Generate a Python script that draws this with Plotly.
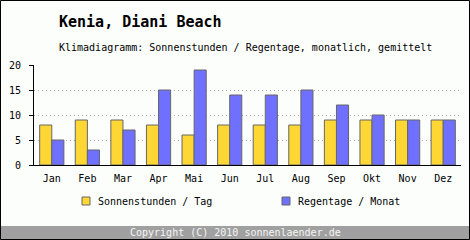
import plotly.graph_objects as go

months = ["Jan", "Feb", "Mar", "Apr", "Mai", "Jun", "Jul", "Aug", "Sep", "Okt", "Nov", "Dez"]
sonnenstunden = [8, 9, 9, 8, 6, 8, 8, 8, 9, 9, 9, 9]
regentage = [5, 3, 7, 15, 19, 14, 14, 15, 12, 10, 9, 9]
y_ticks = [0, 5, 10, 15, 20]
series_names = ["Sonnenstunden / Tag", "Regentage / Monat"]
series_colors = ["#ffd735", "#7070ff"]

W, H = 470, 240
L, R, T, B = 34, 461, 65, 165
FONT = "DejaVu Sans Mono"
BG = "#fcfefc"

def px(x):
    return (x - L) / (R - L)

def py(y):
    return (B - y) / (B - T)

fig = go.Figure()
for name, vals, col in zip(series_names, [sonnenstunden, regentage], series_colors):
    fig.add_trace(go.Bar(x=months, y=vals, name=name, showlegend=False,
                         marker=dict(color=col, line=dict(color="#666666", width=1))))

fig.update_layout(
    width=W, height=H,
    margin=dict(l=L, r=W - R, t=T, b=H - B, pad=0),
    paper_bgcolor=BG, plot_bgcolor=BG,
    font=dict(family=FONT, size=10, color="#000000"),
    barmode="group", bargap=0.32, bargroupgap=0,
    showlegend=False,
    xaxis=dict(showline=True, linecolor="#000000", linewidth=1, ticks="", showgrid=False,
               tickfont=dict(family=FONT, size=10), ticklabelstandoff=4, fixedrange=True),
    yaxis=dict(range=[0, 20], tickvals=y_ticks, showline=True, linecolor="#000000", linewidth=1,
               ticks="outside", ticklen=4, tickcolor="#000000", zeroline=False,
               showgrid=True, gridcolor="#aaaaaa", griddash="1px,3px", gridwidth=1,
               tickfont=dict(family=FONT, size=10), ticklabelstandoff=6),
)

# Legend (manual placement)
legend_x = [82, 282]
for lx, name, col in zip(legend_x, series_names, series_colors):
    fig.add_shape(type="rect", xref="paper", yref="paper", x0=px(lx), x1=px(lx + 8),
                  y0=py(197), y1=py(205), fillcolor=col, line=dict(color="#666666", width=1))
    fig.add_annotation(text=name, xref="paper", yref="paper", x=px(lx + 14), y=py(201),
                       xanchor="left", yanchor="middle", showarrow=False,
                       font=dict(family=FONT, size=10, color="#000000"))

# Titles
fig.add_annotation(text="<b>Kenia, Diani Beach</b>", xref="paper", yref="paper",
                   x=px(57), y=py(22), xanchor="left", yanchor="middle", showarrow=False,
                   font=dict(family=FONT, size=15, color="#000000"))
fig.add_annotation(text="Klimadiagramm: Sonnenstunden / Regentage, monatlich, gemittelt",
                   xref="paper", yref="paper", x=px(57), y=py(47), xanchor="left", yanchor="middle",
                   showarrow=False, font=dict(family=FONT, size=10, color="#000000"))

# Footer band
fig.add_shape(type="rect", xref="paper", yref="paper", x0=px(0), x1=px(W), y0=py(226), y1=py(H),
              fillcolor="#a0a0a0", line=dict(width=0), layer="below")
fig.add_annotation(text="Copyright (C) 2010 sonnenlaender.de", xref="paper", yref="paper",
                   x=px(235), y=py(232.5), xanchor="center", yanchor="middle", showarrow=False,
                   font=dict(family=FONT, size=10, color="#f4f4f4"))
# Outer border
fig.add_shape(type="rect", xref="paper", yref="paper", x0=px(0.5), x1=px(W - 0.5), y0=py(0.5), y1=py(H - 0.5),
              line=dict(color="#000000", width=1), fillcolor="rgba(0,0,0,0)")

fig.write_html("out.html", config={"displayModeBar": False})
